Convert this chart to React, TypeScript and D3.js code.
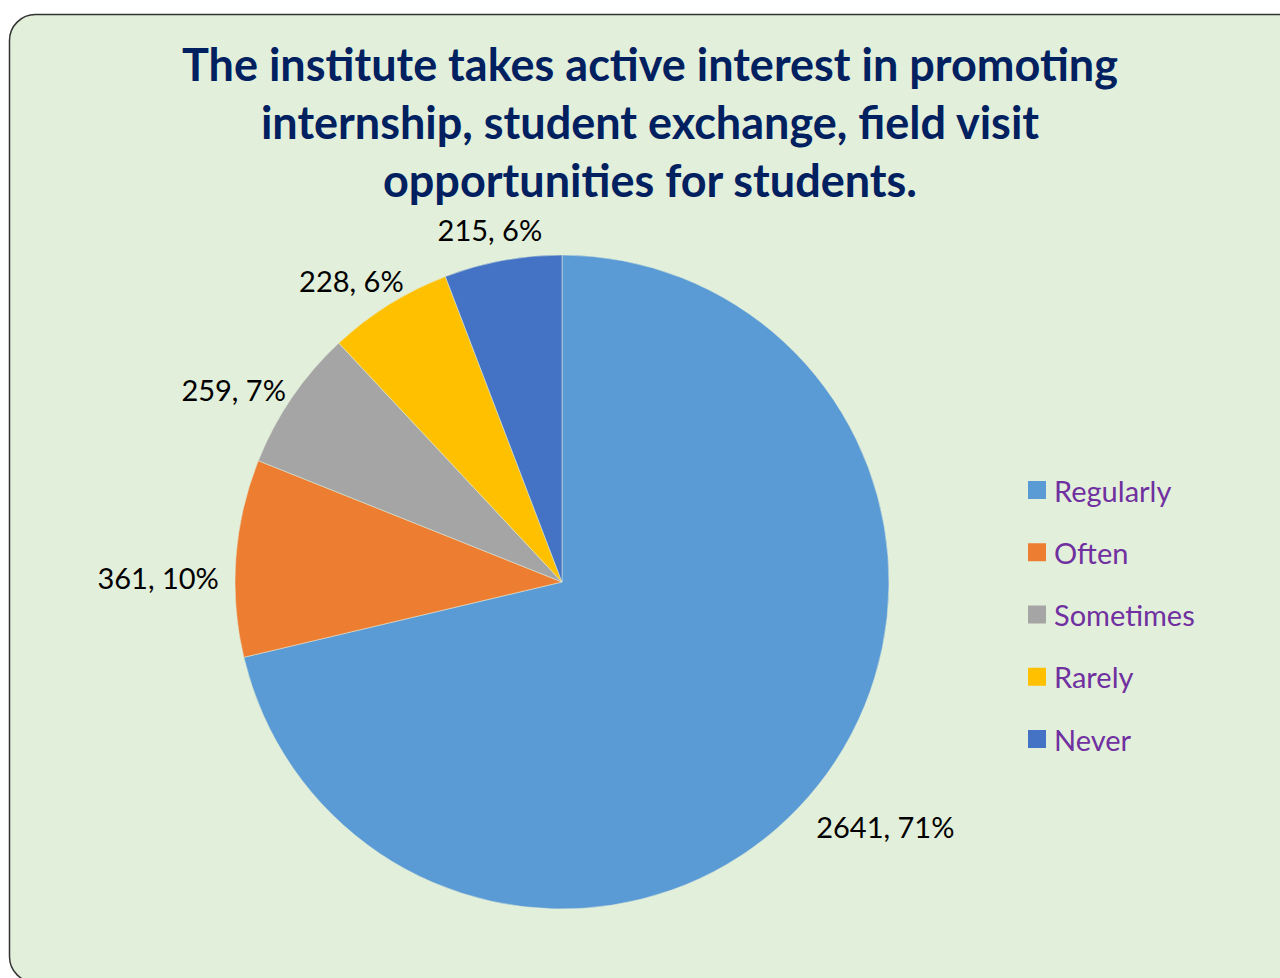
import * as d3 from 'd3'

const categories = ['Regularly', 'Often', 'Sometimes', 'Rarely', 'Never']
const counts = [2641, 361, 259, 228, 215]
const percentLabels = ['71%', '10%', '7%', '6%', '6%']
const colors = ['#5B9BD5', '#ED7D31', '#A5A5A5', '#FFC000', '#4472C4']
const titleLines = [
  'The institute takes active interest in promoting',
  'internship, student exchange, field visit',
  'opportunities for students.',
]

const width = 1280
const height = 978
const cx = 562
const cy = 582
const radius = 327
const labelSize = 29

type Slice = { name: string; value: number; color: string; pct: string }

export default function App() {
  const rows: Slice[] = categories.map((name, i) => ({
    name,
    value: counts[i],
    color: colors[i],
    pct: percentLabels[i],
  }))
  const pie = d3
    .pie<Slice>()
    .value((d) => d.value)
    .sort(null)
  const arcs = pie(rows)
  const arc = d3.arc<d3.PieArcDatum<Slice>>().innerRadius(0).outerRadius(radius)

  const legendY = d3
    .scalePoint<string>()
    .domain(categories)
    .range([490, 739])

  return (
    <svg
      width={width}
      height={height}
      style={{ position: 'absolute', left: 0, top: 0, fontFamily: 'Lato' }}
    >
      <rect
        x={9.5}
        y={14.5}
        width={1320}
        height={968}
        rx={26}
        fill="#E2EFDA"
        stroke="#333"
        strokeWidth={1.5}
      />
      <g fill="#002060" fontWeight="bold" fontSize={45} textAnchor="middle">
        {titleLines.map((t, i) => (
          <text key={i} x={650} y={81 + i * 58}>
            {t}
          </text>
        ))}
      </g>
      <g transform={`translate(${cx},${cy})`}>
        {arcs.map((a, i) => (
          <path
            key={i}
            d={arc(a) ?? undefined}
            fill={a.data.color}
            stroke="#E2EFDA"
            strokeWidth={0.5}
          />
        ))}
        {arcs.map((a, i) => {
          // outside-end label, pushed out so the text box clears the rim
          const mid = (a.startAngle + a.endAngle) / 2
          const sx = Math.sin(mid)
          const sy = -Math.cos(mid)
          const text = `${a.data.value}, ${a.data.pct}`
          const w = text.length * 0.5 * labelSize
          const h = labelSize * 0.85
          const drop = Math.min(22, 24 * (1 + sy))
          const px = sx * (radius + 20) + (sx * w) / 2
          const py = sy * (radius + 20) + (sy * h) / 2 + drop
          return (
            <text
              key={i}
              x={px}
              y={py}
              textAnchor="middle"
              dominantBaseline="central"
              fontSize={labelSize}
              fill="#000"
            >
              {text}
            </text>
          )
        })}
      </g>
      <g>
        {categories.map((c, i) => (
          <g key={c} transform={`translate(1028,${legendY(c)})`}>
            <rect x={0} y={-9} width={18} height={18} fill={colors[i]} />
            <text
              x={26}
              y={0}
              dominantBaseline="central"
              fontSize={labelSize}
              fill="#7030A0"
            >
              {c}
            </text>
          </g>
        ))}
      </g>
    </svg>
  )
}
